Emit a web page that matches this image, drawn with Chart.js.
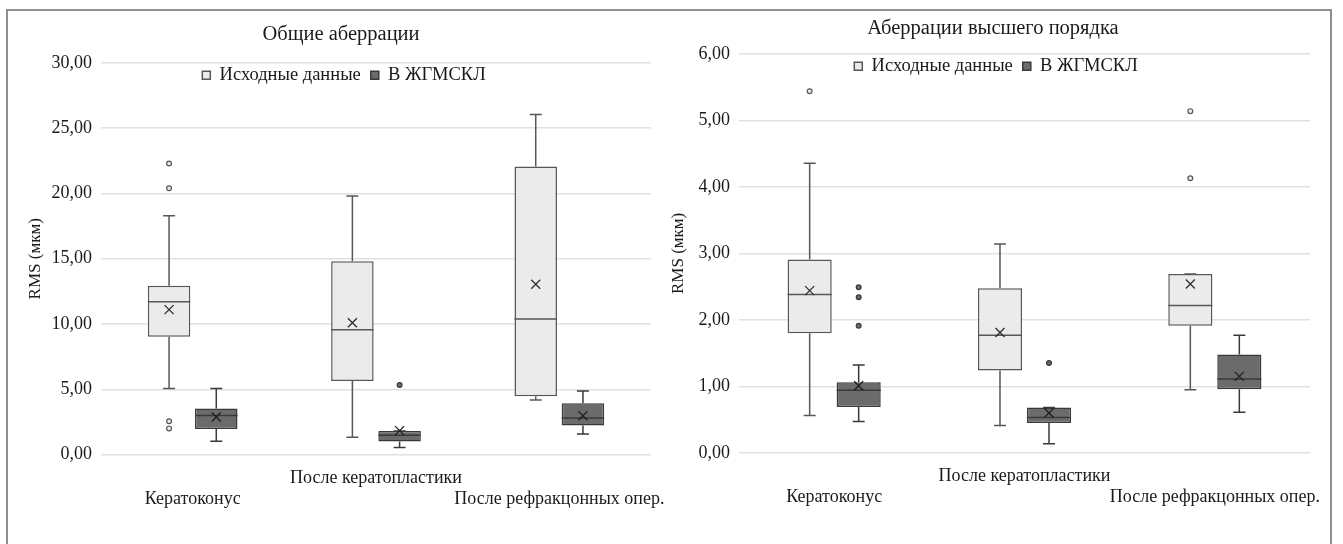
<!DOCTYPE html>
<html>
<head>
<meta charset="UTF-8">
<title>RMS аберраций</title>
<style>
    html, body { margin: 0; padding: 0; background: #fff; }
    body { width: 1343px; height: 544px; position: relative; overflow: hidden; }
    .frame {
        position: absolute; left: 6px; top: 9px;
        width: 1322px; height: 600px;
        border: 2px solid #8e8e8e; border-bottom: none;
    }
    canvas { position: absolute; top: 10px; }
    #chartTotal { left: 8px; }
    #chartHigher { left: 660px; }
</style>
<script src="https://cdn.jsdelivr.net/npm/chart.js"></script>
</head>
<body>
<div class="frame"></div>
<canvas id="chartTotal" width="666" height="534"></canvas>
<canvas id="chartHigher" width="666" height="534"></canvas>
<script>
const categories = ['Кератоконус', 'После кератопластики', 'После рефракцонных опер.'];
const seriesNames = ['Исходные данные', 'В ЖГМСКЛ'];

// Общие аберрации, исходные данные
const totalBaseMin = [5.05, 1.33, 4.18];
const totalBaseQ1 = [9.03, 5.64, 4.47];
const totalBaseMedian = [11.70, 9.56, 10.38];
const totalBaseQ3 = [12.93, 14.80, 22.06];
const totalBaseMax = [18.30, 19.80, 26.06];
const totalBaseMean = [11.10, 10.10, 13.05];
const totalBaseOutliers = [[22.30, 20.40, 2.55, 2.00], [], []];

// Общие аберрации, в ЖГМСКЛ
const totalLensMin = [1.02, 0.53, 1.57];
const totalLensQ1 = [1.96, 1.00, 2.22];
const totalLensMedian = [2.98, 1.48, 2.80];
const totalLensQ3 = [3.52, 1.81, 3.93];
const totalLensMax = [5.05, 1.81, 4.87];
const totalLensMean = [2.88, 1.83, 2.97];
const totalLensOutliers = [[], [5.33], []];

// Аберрации высшего порядка, исходные данные
const higherBaseMin = [0.56, 0.41, 0.95];
const higherBaseQ1 = [1.80, 1.24, 1.91];
const higherBaseMedian = [2.38, 1.77, 2.215];
const higherBaseQ3 = [2.907, 2.475, 2.69];
const higherBaseMax = [4.355, 3.14, 2.69];
const higherBaseMean = [2.44, 1.81, 2.54];
const higherBaseOutliers = [[5.44], [], [5.14, 4.13]];

// Аберрации высшего порядка, в ЖГМСКЛ
const higherLensMin = [0.47, 0.135, 0.61];
const higherLensQ1 = [0.69, 0.45, 0.955];
const higherLensMedian = [0.94, 0.53, 1.11];
const higherLensQ3 = [1.06, 0.68, 1.48];
const higherLensMax = [1.32, 0.68, 1.77];
const higherLensMean = [1.01, 0.60, 1.15];
const higherLensOutliers = [[2.49, 2.34, 1.91], [1.35], []];

const SERIF = '"Liberation Serif", "Times New Roman", serif';
const TEXT = '#1a1a1a';
const LIGHT = { fill: '#ebebeb', edge: '#575757', mark: '#2e2e2e' };
const DARK = { fill: '#6b6b6b', edge: '#3a3a3a', mark: '#1e1e1e' };

// long names go on alternating rows, like Excel does
const categoryRows = categories.map((c, i) => i % 2 ? [c, ''] : ['', c]);

function fmt(v) {
    return v.toFixed(2).replace('.', ',');
}

// whiskers, median, mean cross and outliers on top of the q1..q3 bars
const boxWhiskers = {
    id: 'boxWhiskers',
    afterDatasetsDraw(chart) {
        const ctx = chart.ctx;
        const y = chart.scales.y;
        chart.data.datasets.forEach((ds, i) => {
            const st = ds.stats;
            chart.getDatasetMeta(i).data.forEach((bar, j) => {
                const { x, width } = bar.getProps(['x', 'width'], true);
                const py = v => y.getPixelForValue(v);
                const cap = 6;
                ctx.save();
                ctx.lineWidth = 1.5;
                ctx.strokeStyle = st.colors.edge;
                ctx.beginPath();
                ctx.moveTo(x, py(st.q3[j]));
                ctx.lineTo(x, py(st.max[j]));
                ctx.moveTo(x - cap, py(st.max[j]));
                ctx.lineTo(x + cap, py(st.max[j]));
                ctx.moveTo(x, py(st.q1[j]));
                ctx.lineTo(x, py(st.min[j]));
                ctx.moveTo(x - cap, py(st.min[j]));
                ctx.lineTo(x + cap, py(st.min[j]));
                ctx.moveTo(x - width / 2, py(st.median[j]));
                ctx.lineTo(x + width / 2, py(st.median[j]));
                ctx.stroke();

                // mean
                const my = py(st.mean[j]);
                const s = 4.5;
                ctx.strokeStyle = st.colors.mark;
                ctx.lineWidth = 1.3;
                ctx.beginPath();
                ctx.moveTo(x - s, my - s);
                ctx.lineTo(x + s, my + s);
                ctx.moveTo(x + s, my - s);
                ctx.lineTo(x - s, my + s);
                ctx.stroke();

                // outliers
                ctx.lineWidth = 1.2;
                ctx.strokeStyle = st.colors.edge;
                ctx.fillStyle = st.colors.fill;
                st.outliers[j].forEach(v => {
                    ctx.beginPath();
                    ctx.arc(x, py(v), 2.4, 0, Math.PI * 2);
                    ctx.fill();
                    ctx.stroke();
                });
                ctx.restore();
            });
        });
    }
};

// legend sits inside the plot under the top grid line;
// title and legend are centred on the whole canvas, not the padded box
const headerPlacement = {
    id: 'headerPlacement',
    afterLayout(chart) {
        const shift = chart.options.layout.padding.right / 2;
        const tb = chart.titleBlock;
        tb.left += shift;
        tb.right += shift;

        const lg = chart.legend;
        const top = chart.chartArea.top - 7;
        lg.top = top;
        lg.height = 40;
        lg.bottom = top + 40;
        lg.left += shift + 3;
        lg.right += shift + 3;
    }
};

function renderBoxChart(canvasId, opts) {
    const datasets = opts.series.map(s => ({
        label: s.name,
        data: s.q1.map((v, i) => [v, s.q3[i]]),
        backgroundColor: s.colors.fill,
        borderColor: s.colors.edge,
        borderWidth: 1.5,
        borderSkipped: false,
        categoryPercentage: 0.515,
        barPercentage: 0.9,
        stats: s
    }));

    new Chart(document.getElementById(canvasId), {
        type: 'bar',
        data: { labels: categoryRows, datasets: datasets },
        plugins: [boxWhiskers, headerPlacement],
        options: {
            responsive: false,
            animation: false,
            events: [],
            layout: { padding: opts.padding },
            plugins: {
                title: {
                    display: true,
                    text: opts.title,
                    color: TEXT,
                    font: { family: SERIF, size: 20.5, weight: 'normal' },
                    padding: opts.titlePadding
                },
                legend: {
                    position: 'top',
                    maxHeight: 1,
                    labels: {
                        color: TEXT,
                        font: { family: SERIF, size: 18.5 },
                        boxWidth: 8,
                        boxHeight: 8,
                        padding: 10
                    }
                },
                tooltip: { enabled: false }
            },
            scales: {
                x: {
                    // long edge labels may hang past the plot, as in Excel
                    afterFit: scale => { scale.paddingLeft = 0; scale.paddingRight = 0; },
                    grid: { display: false, drawTicks: false },
                    border: { display: false },
                    ticks: {
                        color: TEXT,
                        font: { family: SERIF, size: 18, lineHeight: '21px' },
                        padding: opts.xTickPadding,
                        maxRotation: 0,
                        autoSkip: false
                    }
                },
                y: {
                    min: 0,
                    max: opts.yMax,
                    afterFit: scale => { scale.width = opts.axisWidth; },
                    grid: { color: '#e1e1e1', lineWidth: 1.5, drawTicks: false },
                    border: { display: false },
                    ticks: {
                        stepSize: opts.yStep,
                        color: TEXT,
                        font: { family: SERIF, size: 18 },
                        padding: 9,
                        callback: v => fmt(v)
                    },
                    title: {
                        display: true,
                        text: 'RMS (мкм)',
                        color: TEXT,
                        font: { family: SERIF, size: 17 },
                        padding: { top: opts.yTitleOffset, bottom: 0 }
                    }
                }
            }
        }
    });
}

renderBoxChart('chartTotal', {
    title: 'Общие аберрации',
    yMax: 30,
    yStep: 5,
    axisWidth: 93,
    yTitleOffset: 17,
    xTickPadding: 13,
    titlePadding: { top: 12, bottom: 15.4 },
    padding: { left: 0, right: 23, top: 0, bottom: 21.5 },
    series: [
        { name: seriesNames[0], colors: LIGHT, min: totalBaseMin, q1: totalBaseQ1, median: totalBaseMedian,
          q3: totalBaseQ3, max: totalBaseMax, mean: totalBaseMean, outliers: totalBaseOutliers },
        { name: seriesNames[1], colors: DARK, min: totalLensMin, q1: totalLensQ1, median: totalLensMedian,
          q3: totalLensQ3, max: totalLensMax, mean: totalLensMean, outliers: totalLensOutliers }
    ]
});

renderBoxChart('chartHigher', {
    title: 'Аберрации высшего порядка',
    yMax: 6,
    yStep: 1,
    axisWidth: 79,
    yTitleOffset: 8,
    xTickPadding: 12.7,
    titlePadding: { top: 6, bottom: 12.4 },
    padding: { left: 0, right: 16, top: 0, bottom: 23.8 },
    series: [
        { name: seriesNames[0], colors: LIGHT, min: higherBaseMin, q1: higherBaseQ1, median: higherBaseMedian,
          q3: higherBaseQ3, max: higherBaseMax, mean: higherBaseMean, outliers: higherBaseOutliers },
        { name: seriesNames[1], colors: DARK, min: higherLensMin, q1: higherLensQ1, median: higherLensMedian,
          q3: higherLensQ3, max: higherLensMax, mean: higherLensMean, outliers: higherLensOutliers }
    ]
});
</script>
</body>
</html>
